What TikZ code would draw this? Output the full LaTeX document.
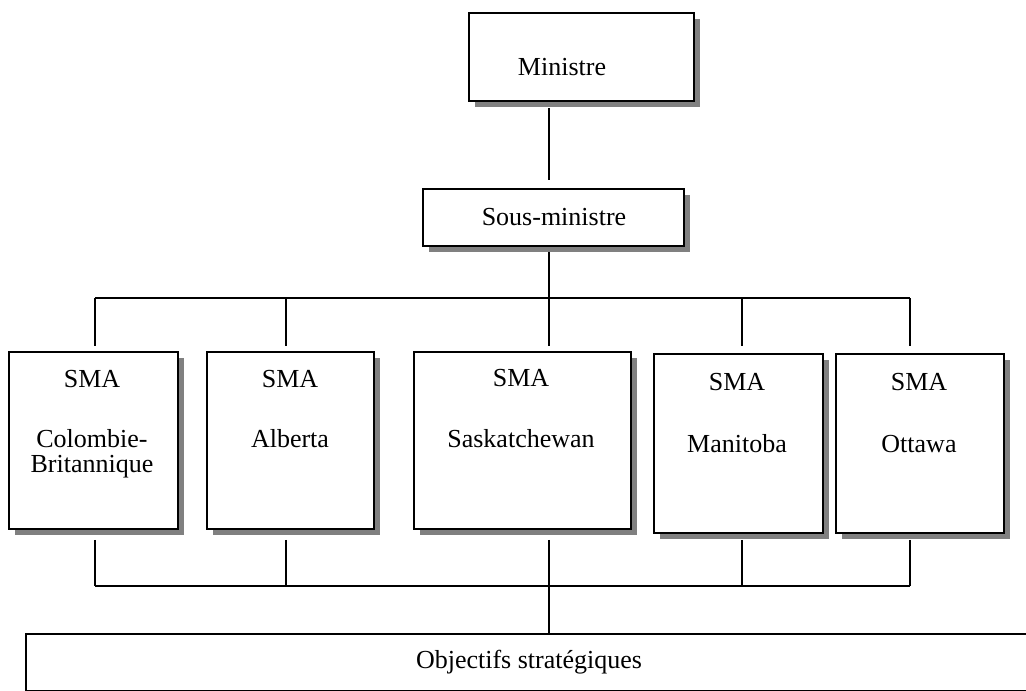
\documentclass[tikz,border=0pt]{standalone}
\usepackage{fontspec}
\setmainfont{Liberation Serif}
\usetikzlibrary{shadows}
\begin{document}
\begin{tikzpicture}[x=1pt,y=-1pt,
  orgbox/.style={draw=black, line width=1.8pt, fill=white, inner sep=0pt, anchor=north west,
    general shadow={fill={rgb,255:red,128;green,128;blue,128}, shadow xshift=6pt, shadow yshift=-6pt}},
  plainbox/.style={draw=black, line width=1.8pt, fill=white, inner sep=0pt, anchor=north west},
  lbl/.style={font=\fontsize{26}{30}\selectfont, anchor=base, inner sep=0pt},
  conn/.style={line width=1.8pt, black}]
\useasboundingbox (0,0) rectangle (1026,691);
\clip (0,0) rectangle (1026,691);
% boxes
\node[orgbox, minimum width=225pt, minimum height=88pt] (min) at (468,12) {};
\node[orgbox, minimum width=261pt, minimum height=57pt] (sous) at (422,188) {};
\node[orgbox, minimum width=169pt, minimum height=177pt] (cb) at (8,351) {};
\node[orgbox, minimum width=167pt, minimum height=177pt] (alb) at (206,351) {};
\node[orgbox, minimum width=217pt, minimum height=177pt] (sask) at (413,351) {};
\node[orgbox, minimum width=169pt, minimum height=179pt] (man) at (653,353) {};
\node[orgbox, minimum width=168pt, minimum height=179pt] (ott) at (835,353) {};
\node[plainbox, minimum width=1020pt, minimum height=57pt] (obj) at (25,633) {};
% labels
\node[lbl] (tmin) at (562,75) {Ministre};
\node[lbl] (tsous) at (554,225) {Sous-ministre};
\node[lbl] (tcb1) at (92,387) {SMA};
\node[lbl] (tcb2) at (92,447) {Colombie-};
\node[lbl] (tcb3) at (92,472) {Britannique};
\node[lbl] (talb1) at (290,387) {SMA};
\node[lbl] (talb2) at (290,447) {Alberta};
\node[lbl] (tsask1) at (521,386) {SMA};
\node[lbl] (tsask2) at (521,447) {Saskatchewan};
\node[lbl] (tman1) at (737,390) {SMA};
\node[lbl] (tman2) at (737,452) {Manitoba};
\node[lbl] (tott1) at (919,390) {SMA};
\node[lbl] (tott2) at (919,452) {Ottawa};
\node[lbl] (tobj) at (529,668) {Objectifs stratégiques};
% junctions
\coordinate (t1) at (95,298);
\coordinate (t2) at (286,298);
\coordinate (t3) at (549,298);
\coordinate (t4) at (742,298);
\coordinate (t5) at (910,298);
\coordinate (b1) at (95,586);
\coordinate (b2) at (286,586);
\coordinate (b3) at (549,586);
\coordinate (b4) at (742,586);
\coordinate (b5) at (910,586);
% connectors
\draw[conn] (min.south -| t3) ++(0,6) -- ([yshift=8pt]sous.north -| t3);
\draw[conn] (sous.south -| t3) ++(0,5) -- (t3);
\draw[conn] (t1) -- (t5);
\draw[conn] (t1) -- ([yshift=5pt]cb.north -| t1);
\draw[conn] (t2) -- ([yshift=5pt]alb.north -| t2);
\draw[conn] (t3) -- ([yshift=5pt]sask.north -| t3);
\draw[conn] (t4) -- ([yshift=7pt]man.north -| t4);
\draw[conn] (t5) -- ([yshift=7pt]ott.north -| t5);
\draw[conn] (cb.south -| b1) ++(0,10) -- (b1);
\draw[conn] (alb.south -| b2) ++(0,10) -- (b2);
\draw[conn] (sask.south -| b3) ++(0,10) -- (b3);
\draw[conn] (man.south -| b4) ++(0,6) -- (b4);
\draw[conn] (ott.south -| b5) ++(0,6) -- (b5);
\draw[conn] (b1) -- (b5);
\draw[conn] (b3) -- (obj.north -| b3);
\end{tikzpicture}
\end{document}
